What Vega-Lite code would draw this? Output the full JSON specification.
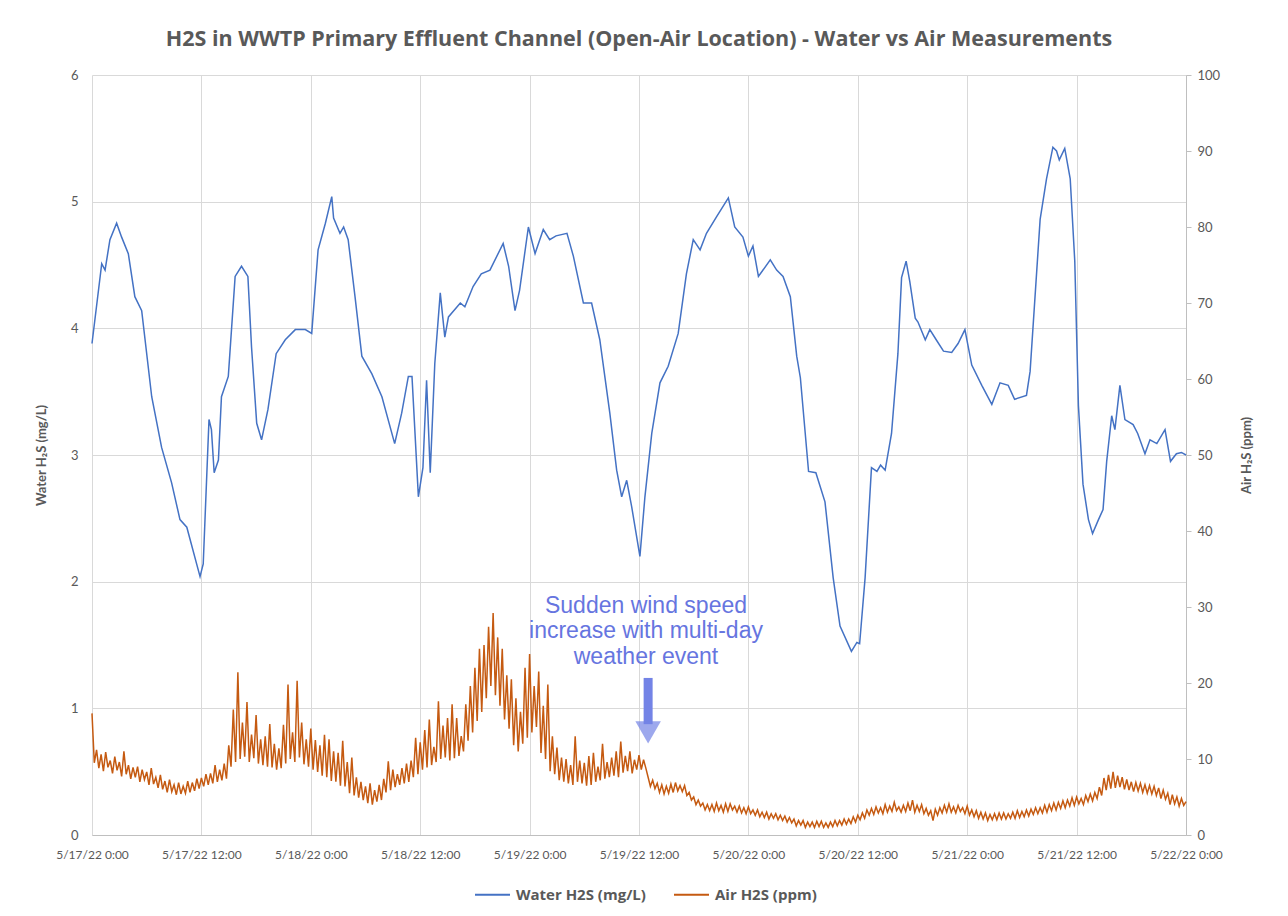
{
  "$schema": "https://vega.github.io/schema/vega-lite/v6.json",
  "width": 1094,
  "height": 760,
  "autosize": {"type": "none"},
  "padding": {"left": 92, "top": 75, "right": 102, "bottom": 81},
  "background": "white",
  "title": {
    "text": "H2S in WWTP Primary Effluent Channel (Open-Air Location) - Water vs Air Measurements",
    "font": "Open Sans", "fontSize": 21.5, "fontWeight": "bold", "color": "#595959",
    "anchor": "middle", "offset": 19
  },
  "config": {
    "view": {"stroke": null},
    "axis": {
      "labelFont": "Lato", "labelFontSize": 13, "labelColor": "#595959",
      "titleFont": "Lato", "titleFontSize": 13, "titleFontWeight": "bold", "titleColor": "#595959",
      "gridColor": "#d9d9d9", "domainColor": "#bfbfbf", "tickColor": "#bfbfbf"
    },
    "legend": {"labelFont": "Open Sans", "labelFontSize": 15, "labelFontWeight": "bold", "labelColor": "#595959"}
  },
  "datasets": {
    "water": [
      {"t": "2022-05-17T00:00", "w": 3.88}, {"t": "2022-05-17T01:04", "w": 4.51}, {"t": "2022-05-17T01:26", "w": 4.46},
      {"t": "2022-05-17T01:58", "w": 4.70}, {"t": "2022-05-17T02:42", "w": 4.83}, {"t": "2022-05-17T03:15", "w": 4.72},
      {"t": "2022-05-17T03:59", "w": 4.59}, {"t": "2022-05-17T04:42", "w": 4.25}, {"t": "2022-05-17T05:27", "w": 4.14},
      {"t": "2022-05-17T06:33", "w": 3.46}, {"t": "2022-05-17T07:38", "w": 3.06}, {"t": "2022-05-17T08:44", "w": 2.78},
      {"t": "2022-05-17T09:39", "w": 2.49}, {"t": "2022-05-17T10:24", "w": 2.43}, {"t": "2022-05-17T11:51", "w": 2.04},
      {"t": "2022-05-17T12:12", "w": 2.14}, {"t": "2022-05-17T12:50", "w": 3.28}, {"t": "2022-05-17T13:06", "w": 3.20},
      {"t": "2022-05-17T13:24", "w": 2.86}, {"t": "2022-05-17T13:52", "w": 2.96}, {"t": "2022-05-17T14:12", "w": 3.46},
      {"t": "2022-05-17T14:57", "w": 3.62}, {"t": "2022-05-17T15:42", "w": 4.41}, {"t": "2022-05-17T16:24", "w": 4.49},
      {"t": "2022-05-17T17:06", "w": 4.41}, {"t": "2022-05-17T17:30", "w": 3.85}, {"t": "2022-05-17T18:04", "w": 3.25},
      {"t": "2022-05-17T18:36", "w": 3.12}, {"t": "2022-05-17T19:18", "w": 3.36}, {"t": "2022-05-17T20:12", "w": 3.80},
      {"t": "2022-05-17T21:12", "w": 3.91}, {"t": "2022-05-17T22:18", "w": 3.99}, {"t": "2022-05-17T23:24", "w": 3.99},
      {"t": "2022-05-18T00:06", "w": 3.96}, {"t": "2022-05-18T00:48", "w": 4.62}, {"t": "2022-05-18T01:36", "w": 4.83},
      {"t": "2022-05-18T02:18", "w": 5.04}, {"t": "2022-05-18T02:30", "w": 4.87}, {"t": "2022-05-18T03:12", "w": 4.75},
      {"t": "2022-05-18T03:36", "w": 4.80}, {"t": "2022-05-18T04:06", "w": 4.70}, {"t": "2022-05-18T04:51", "w": 4.25},
      {"t": "2022-05-18T05:36", "w": 3.78}, {"t": "2022-05-18T06:42", "w": 3.64}, {"t": "2022-05-18T07:48", "w": 3.46},
      {"t": "2022-05-18T09:12", "w": 3.09}, {"t": "2022-05-18T09:58", "w": 3.33}, {"t": "2022-05-18T10:42", "w": 3.62},
      {"t": "2022-05-18T11:06", "w": 3.62}, {"t": "2022-05-18T11:48", "w": 2.67}, {"t": "2022-05-18T12:18", "w": 2.90},
      {"t": "2022-05-18T12:42", "w": 3.59}, {"t": "2022-05-18T13:06", "w": 2.86}, {"t": "2022-05-18T13:36", "w": 3.72},
      {"t": "2022-05-18T14:12", "w": 4.28}, {"t": "2022-05-18T14:42", "w": 3.93}, {"t": "2022-05-18T15:06", "w": 4.09},
      {"t": "2022-05-18T16:24", "w": 4.20}, {"t": "2022-05-18T16:54", "w": 4.17}, {"t": "2022-05-18T17:48", "w": 4.33},
      {"t": "2022-05-18T18:42", "w": 4.43}, {"t": "2022-05-18T19:39", "w": 4.46}, {"t": "2022-05-18T21:06", "w": 4.67},
      {"t": "2022-05-18T21:42", "w": 4.49}, {"t": "2022-05-18T22:24", "w": 4.14}, {"t": "2022-05-18T22:54", "w": 4.30},
      {"t": "2022-05-18T23:52", "w": 4.80}, {"t": "2022-05-19T00:36", "w": 4.59}, {"t": "2022-05-19T01:30", "w": 4.78},
      {"t": "2022-05-19T02:12", "w": 4.70}, {"t": "2022-05-19T02:54", "w": 4.73}, {"t": "2022-05-19T04:06", "w": 4.75},
      {"t": "2022-05-19T04:48", "w": 4.57}, {"t": "2022-05-19T05:54", "w": 4.20}, {"t": "2022-05-19T06:48", "w": 4.20},
      {"t": "2022-05-19T07:42", "w": 3.91}, {"t": "2022-05-19T08:48", "w": 3.33}, {"t": "2022-05-19T09:33", "w": 2.88},
      {"t": "2022-05-19T10:06", "w": 2.67}, {"t": "2022-05-19T10:39", "w": 2.80}, {"t": "2022-05-19T11:12", "w": 2.59},
      {"t": "2022-05-19T12:06", "w": 2.20}, {"t": "2022-05-19T12:39", "w": 2.67}, {"t": "2022-05-19T13:24", "w": 3.17},
      {"t": "2022-05-19T14:18", "w": 3.57}, {"t": "2022-05-19T15:12", "w": 3.70}, {"t": "2022-05-19T16:18", "w": 3.96},
      {"t": "2022-05-19T17:12", "w": 4.43}, {"t": "2022-05-19T17:57", "w": 4.70}, {"t": "2022-05-19T18:42", "w": 4.62},
      {"t": "2022-05-19T19:24", "w": 4.75}, {"t": "2022-05-19T20:30", "w": 4.88}, {"t": "2022-05-19T21:48", "w": 5.03},
      {"t": "2022-05-19T22:30", "w": 4.80}, {"t": "2022-05-19T23:24", "w": 4.72}, {"t": "2022-05-20T00:00", "w": 4.57},
      {"t": "2022-05-20T00:30", "w": 4.65}, {"t": "2022-05-20T01:06", "w": 4.41}, {"t": "2022-05-20T02:24", "w": 4.54},
      {"t": "2022-05-20T03:06", "w": 4.46}, {"t": "2022-05-20T03:48", "w": 4.41}, {"t": "2022-05-20T04:36", "w": 4.25},
      {"t": "2022-05-20T05:18", "w": 3.78}, {"t": "2022-05-20T05:42", "w": 3.61}, {"t": "2022-05-20T06:36", "w": 2.87},
      {"t": "2022-05-20T07:24", "w": 2.86}, {"t": "2022-05-20T08:24", "w": 2.63}, {"t": "2022-05-20T09:18", "w": 2.03},
      {"t": "2022-05-20T10:03", "w": 1.65}, {"t": "2022-05-20T11:18", "w": 1.45}, {"t": "2022-05-20T11:54", "w": 1.52},
      {"t": "2022-05-20T12:12", "w": 1.51}, {"t": "2022-05-20T12:48", "w": 2.03}, {"t": "2022-05-20T13:30", "w": 2.90},
      {"t": "2022-05-20T14:06", "w": 2.87}, {"t": "2022-05-20T14:30", "w": 2.92}, {"t": "2022-05-20T15:00", "w": 2.88},
      {"t": "2022-05-20T15:42", "w": 3.17}, {"t": "2022-05-20T16:24", "w": 3.80}, {"t": "2022-05-20T16:48", "w": 4.40},
      {"t": "2022-05-20T17:18", "w": 4.53}, {"t": "2022-05-20T17:42", "w": 4.37}, {"t": "2022-05-20T18:18", "w": 4.08},
      {"t": "2022-05-20T18:36", "w": 4.05}, {"t": "2022-05-20T19:24", "w": 3.91}, {"t": "2022-05-20T19:54", "w": 3.99},
      {"t": "2022-05-20T20:36", "w": 3.91}, {"t": "2022-05-20T21:24", "w": 3.82}, {"t": "2022-05-20T22:18", "w": 3.81},
      {"t": "2022-05-20T23:00", "w": 3.88}, {"t": "2022-05-20T23:45", "w": 3.99}, {"t": "2022-05-21T00:30", "w": 3.71},
      {"t": "2022-05-21T01:36", "w": 3.55}, {"t": "2022-05-21T02:42", "w": 3.40}, {"t": "2022-05-21T03:36", "w": 3.57},
      {"t": "2022-05-21T04:30", "w": 3.55}, {"t": "2022-05-21T05:12", "w": 3.44}, {"t": "2022-05-21T06:30", "w": 3.47},
      {"t": "2022-05-21T06:54", "w": 3.66}, {"t": "2022-05-21T08:00", "w": 4.86}, {"t": "2022-05-21T08:42", "w": 5.18},
      {"t": "2022-05-21T09:24", "w": 5.43}, {"t": "2022-05-21T09:48", "w": 5.40}, {"t": "2022-05-21T10:06", "w": 5.33},
      {"t": "2022-05-21T10:42", "w": 5.42}, {"t": "2022-05-21T11:18", "w": 5.18}, {"t": "2022-05-21T11:48", "w": 4.53},
      {"t": "2022-05-21T12:12", "w": 3.39}, {"t": "2022-05-21T12:42", "w": 2.77}, {"t": "2022-05-21T13:18", "w": 2.49},
      {"t": "2022-05-21T13:45", "w": 2.38}, {"t": "2022-05-21T14:24", "w": 2.49}, {"t": "2022-05-21T14:54", "w": 2.57},
      {"t": "2022-05-21T15:18", "w": 2.95}, {"t": "2022-05-21T15:51", "w": 3.31}, {"t": "2022-05-21T16:12", "w": 3.20},
      {"t": "2022-05-21T16:45", "w": 3.55}, {"t": "2022-05-21T17:18", "w": 3.28}, {"t": "2022-05-21T18:12", "w": 3.24},
      {"t": "2022-05-21T18:42", "w": 3.17}, {"t": "2022-05-21T19:30", "w": 3.01}, {"t": "2022-05-21T20:03", "w": 3.12},
      {"t": "2022-05-21T20:48", "w": 3.09}, {"t": "2022-05-21T21:42", "w": 3.20}, {"t": "2022-05-21T22:18", "w": 2.95},
      {"t": "2022-05-21T22:57", "w": 3.01}, {"t": "2022-05-21T23:30", "w": 3.02}, {"t": "2022-05-22T00:00", "w": 3.00}
    ],
    "air": [
      {"t": "2022-05-17T00:00", "a": 16.0}, {"t": "2022-05-17T00:15", "a": 9.5}, {"t": "2022-05-17T00:30", "a": 11.2}, {"t": "2022-05-17T00:45", "a": 8.8},
      {"t": "2022-05-17T01:00", "a": 10.6}, {"t": "2022-05-17T01:15", "a": 8.4}, {"t": "2022-05-17T01:30", "a": 10.9}, {"t": "2022-05-17T01:45", "a": 8.9},
      {"t": "2022-05-17T02:00", "a": 9.8}, {"t": "2022-05-17T02:15", "a": 8.1}, {"t": "2022-05-17T02:30", "a": 10.3}, {"t": "2022-05-17T02:45", "a": 8.5},
      {"t": "2022-05-17T03:00", "a": 9.6}, {"t": "2022-05-17T03:15", "a": 7.7}, {"t": "2022-05-17T03:30", "a": 11.0}, {"t": "2022-05-17T03:45", "a": 8.0},
      {"t": "2022-05-17T04:00", "a": 9.2}, {"t": "2022-05-17T04:15", "a": 7.4}, {"t": "2022-05-17T04:30", "a": 8.9}, {"t": "2022-05-17T04:45", "a": 7.6},
      {"t": "2022-05-17T05:00", "a": 9.0}, {"t": "2022-05-17T05:15", "a": 7.0}, {"t": "2022-05-17T05:30", "a": 8.6}, {"t": "2022-05-17T05:45", "a": 7.3},
      {"t": "2022-05-17T06:00", "a": 8.3}, {"t": "2022-05-17T06:15", "a": 6.6}, {"t": "2022-05-17T06:30", "a": 8.8}, {"t": "2022-05-17T06:45", "a": 6.7},
      {"t": "2022-05-17T07:00", "a": 7.6}, {"t": "2022-05-17T07:15", "a": 6.2}, {"t": "2022-05-17T07:30", "a": 7.9}, {"t": "2022-05-17T07:45", "a": 6.0},
      {"t": "2022-05-17T08:00", "a": 7.1}, {"t": "2022-05-17T08:15", "a": 5.6}, {"t": "2022-05-17T08:30", "a": 7.3}, {"t": "2022-05-17T08:45", "a": 5.7},
      {"t": "2022-05-17T09:00", "a": 6.6}, {"t": "2022-05-17T09:15", "a": 5.3}, {"t": "2022-05-17T09:30", "a": 6.9}, {"t": "2022-05-17T09:45", "a": 5.4},
      {"t": "2022-05-17T10:00", "a": 6.4}, {"t": "2022-05-17T10:15", "a": 5.5}, {"t": "2022-05-17T10:30", "a": 7.1}, {"t": "2022-05-17T10:45", "a": 5.6},
      {"t": "2022-05-17T11:00", "a": 6.9}, {"t": "2022-05-17T11:15", "a": 5.8}, {"t": "2022-05-17T11:30", "a": 7.4}, {"t": "2022-05-17T11:45", "a": 6.1},
      {"t": "2022-05-17T12:00", "a": 7.5}, {"t": "2022-05-17T12:15", "a": 6.4}, {"t": "2022-05-17T12:30", "a": 8.0}, {"t": "2022-05-17T12:45", "a": 6.6},
      {"t": "2022-05-17T13:00", "a": 8.1}, {"t": "2022-05-17T13:15", "a": 6.8}, {"t": "2022-05-17T13:30", "a": 9.2}, {"t": "2022-05-17T13:45", "a": 7.0},
      {"t": "2022-05-17T14:00", "a": 8.6}, {"t": "2022-05-17T14:15", "a": 7.2}, {"t": "2022-05-17T14:30", "a": 9.4}, {"t": "2022-05-17T14:45", "a": 7.4},
      {"t": "2022-05-17T15:00", "a": 11.8}, {"t": "2022-05-17T15:15", "a": 9.0}, {"t": "2022-05-17T15:30", "a": 16.5}, {"t": "2022-05-17T15:45", "a": 9.6},
      {"t": "2022-05-17T16:00", "a": 21.4}, {"t": "2022-05-17T16:15", "a": 10.0}, {"t": "2022-05-17T16:30", "a": 14.8}, {"t": "2022-05-17T16:45", "a": 10.3},
      {"t": "2022-05-17T17:00", "a": 17.5}, {"t": "2022-05-17T17:15", "a": 9.6}, {"t": "2022-05-17T17:30", "a": 13.2}, {"t": "2022-05-17T17:45", "a": 10.1},
      {"t": "2022-05-17T18:00", "a": 15.8}, {"t": "2022-05-17T18:15", "a": 9.4}, {"t": "2022-05-17T18:30", "a": 12.6}, {"t": "2022-05-17T18:45", "a": 9.2},
      {"t": "2022-05-17T19:00", "a": 13.0}, {"t": "2022-05-17T19:15", "a": 9.0}, {"t": "2022-05-17T19:30", "a": 14.6}, {"t": "2022-05-17T19:45", "a": 8.9},
      {"t": "2022-05-17T20:00", "a": 12.0}, {"t": "2022-05-17T20:15", "a": 8.6}, {"t": "2022-05-17T20:30", "a": 11.4}, {"t": "2022-05-17T20:45", "a": 8.8},
      {"t": "2022-05-17T21:00", "a": 14.5}, {"t": "2022-05-17T21:15", "a": 9.4}, {"t": "2022-05-17T21:30", "a": 19.8}, {"t": "2022-05-17T21:45", "a": 10.0},
      {"t": "2022-05-17T22:00", "a": 13.5}, {"t": "2022-05-17T22:15", "a": 9.6}, {"t": "2022-05-17T22:30", "a": 20.3}, {"t": "2022-05-17T22:45", "a": 10.2},
      {"t": "2022-05-17T23:00", "a": 14.8}, {"t": "2022-05-17T23:15", "a": 9.3}, {"t": "2022-05-17T23:30", "a": 12.6}, {"t": "2022-05-17T23:45", "a": 9.0},
      {"t": "2022-05-18T00:00", "a": 14.0}, {"t": "2022-05-18T00:15", "a": 8.6}, {"t": "2022-05-18T00:30", "a": 12.5}, {"t": "2022-05-18T00:45", "a": 8.3},
      {"t": "2022-05-18T01:00", "a": 11.8}, {"t": "2022-05-18T01:15", "a": 7.8}, {"t": "2022-05-18T01:30", "a": 13.2}, {"t": "2022-05-18T01:45", "a": 7.6},
      {"t": "2022-05-18T02:00", "a": 12.6}, {"t": "2022-05-18T02:15", "a": 7.1}, {"t": "2022-05-18T02:30", "a": 11.0}, {"t": "2022-05-18T02:45", "a": 7.0},
      {"t": "2022-05-18T03:00", "a": 10.8}, {"t": "2022-05-18T03:15", "a": 6.5}, {"t": "2022-05-18T03:30", "a": 12.4}, {"t": "2022-05-18T03:45", "a": 6.4},
      {"t": "2022-05-18T04:00", "a": 9.6}, {"t": "2022-05-18T04:15", "a": 5.5}, {"t": "2022-05-18T04:30", "a": 10.2}, {"t": "2022-05-18T04:45", "a": 5.2},
      {"t": "2022-05-18T05:00", "a": 7.6}, {"t": "2022-05-18T05:15", "a": 4.9}, {"t": "2022-05-18T05:30", "a": 7.0}, {"t": "2022-05-18T05:45", "a": 4.6},
      {"t": "2022-05-18T06:00", "a": 6.4}, {"t": "2022-05-18T06:15", "a": 4.2}, {"t": "2022-05-18T06:30", "a": 6.8}, {"t": "2022-05-18T06:45", "a": 4.0},
      {"t": "2022-05-18T07:00", "a": 5.9}, {"t": "2022-05-18T07:15", "a": 4.4}, {"t": "2022-05-18T07:30", "a": 6.6}, {"t": "2022-05-18T07:45", "a": 4.6},
      {"t": "2022-05-18T08:00", "a": 7.4}, {"t": "2022-05-18T08:15", "a": 5.6}, {"t": "2022-05-18T08:30", "a": 9.7}, {"t": "2022-05-18T08:45", "a": 5.9},
      {"t": "2022-05-18T09:00", "a": 8.6}, {"t": "2022-05-18T09:15", "a": 6.3}, {"t": "2022-05-18T09:30", "a": 8.0}, {"t": "2022-05-18T09:45", "a": 6.6},
      {"t": "2022-05-18T10:00", "a": 8.8}, {"t": "2022-05-18T10:15", "a": 6.8}, {"t": "2022-05-18T10:30", "a": 9.4}, {"t": "2022-05-18T10:45", "a": 7.0},
      {"t": "2022-05-18T11:00", "a": 9.8}, {"t": "2022-05-18T11:15", "a": 7.6}, {"t": "2022-05-18T11:30", "a": 12.8}, {"t": "2022-05-18T11:45", "a": 8.0},
      {"t": "2022-05-18T12:00", "a": 12.2}, {"t": "2022-05-18T12:15", "a": 8.6}, {"t": "2022-05-18T12:30", "a": 13.8}, {"t": "2022-05-18T12:45", "a": 8.9},
      {"t": "2022-05-18T13:00", "a": 15.2}, {"t": "2022-05-18T13:15", "a": 9.2}, {"t": "2022-05-18T13:30", "a": 11.6}, {"t": "2022-05-18T13:45", "a": 9.6},
      {"t": "2022-05-18T14:00", "a": 17.6}, {"t": "2022-05-18T14:15", "a": 10.0}, {"t": "2022-05-18T14:30", "a": 14.4}, {"t": "2022-05-18T14:45", "a": 10.2},
      {"t": "2022-05-18T15:00", "a": 15.4}, {"t": "2022-05-18T15:15", "a": 9.8}, {"t": "2022-05-18T15:30", "a": 17.2}, {"t": "2022-05-18T15:45", "a": 10.1},
      {"t": "2022-05-18T16:00", "a": 15.4}, {"t": "2022-05-18T16:15", "a": 10.4}, {"t": "2022-05-18T16:30", "a": 13.0}, {"t": "2022-05-18T16:45", "a": 11.0},
      {"t": "2022-05-18T17:00", "a": 17.2}, {"t": "2022-05-18T17:15", "a": 12.4}, {"t": "2022-05-18T17:30", "a": 19.6}, {"t": "2022-05-18T17:45", "a": 13.5},
      {"t": "2022-05-18T18:00", "a": 22.0}, {"t": "2022-05-18T18:15", "a": 15.0}, {"t": "2022-05-18T18:30", "a": 24.5}, {"t": "2022-05-18T18:45", "a": 16.2},
      {"t": "2022-05-18T19:00", "a": 25.0}, {"t": "2022-05-18T19:15", "a": 18.0}, {"t": "2022-05-18T19:30", "a": 27.4}, {"t": "2022-05-18T19:45", "a": 19.6},
      {"t": "2022-05-18T20:00", "a": 29.2}, {"t": "2022-05-18T20:15", "a": 18.4}, {"t": "2022-05-18T20:30", "a": 26.0}, {"t": "2022-05-18T20:45", "a": 17.0},
      {"t": "2022-05-18T21:00", "a": 24.5}, {"t": "2022-05-18T21:15", "a": 15.2}, {"t": "2022-05-18T21:30", "a": 21.0}, {"t": "2022-05-18T21:45", "a": 14.0},
      {"t": "2022-05-18T22:00", "a": 20.5}, {"t": "2022-05-18T22:15", "a": 11.8}, {"t": "2022-05-18T22:30", "a": 18.0}, {"t": "2022-05-18T22:45", "a": 11.0},
      {"t": "2022-05-18T23:00", "a": 16.2}, {"t": "2022-05-18T23:15", "a": 12.0}, {"t": "2022-05-18T23:30", "a": 22.0}, {"t": "2022-05-18T23:45", "a": 12.8},
      {"t": "2022-05-19T00:00", "a": 23.8}, {"t": "2022-05-19T00:15", "a": 13.5}, {"t": "2022-05-19T00:30", "a": 19.6}, {"t": "2022-05-19T00:45", "a": 14.2},
      {"t": "2022-05-19T01:00", "a": 21.5}, {"t": "2022-05-19T01:15", "a": 10.8}, {"t": "2022-05-19T01:30", "a": 17.0}, {"t": "2022-05-19T01:45", "a": 10.0},
      {"t": "2022-05-19T02:00", "a": 19.8}, {"t": "2022-05-19T02:15", "a": 8.4}, {"t": "2022-05-19T02:30", "a": 13.0}, {"t": "2022-05-19T02:45", "a": 8.0},
      {"t": "2022-05-19T03:00", "a": 11.5}, {"t": "2022-05-19T03:15", "a": 7.2}, {"t": "2022-05-19T03:30", "a": 10.2}, {"t": "2022-05-19T03:45", "a": 7.0},
      {"t": "2022-05-19T04:00", "a": 10.0}, {"t": "2022-05-19T04:15", "a": 6.8}, {"t": "2022-05-19T04:30", "a": 9.2}, {"t": "2022-05-19T04:45", "a": 6.6},
      {"t": "2022-05-19T05:00", "a": 13.0}, {"t": "2022-05-19T05:15", "a": 7.0}, {"t": "2022-05-19T05:30", "a": 9.8}, {"t": "2022-05-19T05:45", "a": 6.8},
      {"t": "2022-05-19T06:00", "a": 9.5}, {"t": "2022-05-19T06:15", "a": 6.5}, {"t": "2022-05-19T06:30", "a": 10.4}, {"t": "2022-05-19T06:45", "a": 6.6},
      {"t": "2022-05-19T07:00", "a": 10.8}, {"t": "2022-05-19T07:15", "a": 7.0}, {"t": "2022-05-19T07:30", "a": 9.0}, {"t": "2022-05-19T07:45", "a": 7.2},
      {"t": "2022-05-19T08:00", "a": 12.0}, {"t": "2022-05-19T08:15", "a": 7.4}, {"t": "2022-05-19T08:30", "a": 9.6}, {"t": "2022-05-19T08:45", "a": 7.6},
      {"t": "2022-05-19T09:00", "a": 10.2}, {"t": "2022-05-19T09:15", "a": 7.8}, {"t": "2022-05-19T09:30", "a": 11.0}, {"t": "2022-05-19T09:45", "a": 7.6},
      {"t": "2022-05-19T10:00", "a": 12.3}, {"t": "2022-05-19T10:15", "a": 8.2}, {"t": "2022-05-19T10:30", "a": 10.4}, {"t": "2022-05-19T10:45", "a": 8.4},
      {"t": "2022-05-19T11:00", "a": 11.0}, {"t": "2022-05-19T11:15", "a": 8.1}, {"t": "2022-05-19T11:30", "a": 9.9}, {"t": "2022-05-19T11:45", "a": 8.6},
      {"t": "2022-05-19T12:00", "a": 10.5}, {"t": "2022-05-19T12:15", "a": 8.6}, {"t": "2022-05-19T12:30", "a": 9.9}, {"t": "2022-05-19T12:45", "a": 8.8},
      {"t": "2022-05-19T13:00", "a": 7.6}, {"t": "2022-05-19T13:15", "a": 6.4}, {"t": "2022-05-19T13:30", "a": 7.2}, {"t": "2022-05-19T13:45", "a": 6.1},
      {"t": "2022-05-19T14:00", "a": 6.8}, {"t": "2022-05-19T14:15", "a": 5.6}, {"t": "2022-05-19T14:30", "a": 6.6}, {"t": "2022-05-19T14:45", "a": 5.4},
      {"t": "2022-05-19T15:00", "a": 6.4}, {"t": "2022-05-19T15:15", "a": 5.5}, {"t": "2022-05-19T15:30", "a": 6.7}, {"t": "2022-05-19T15:45", "a": 5.6},
      {"t": "2022-05-19T16:00", "a": 6.9}, {"t": "2022-05-19T16:15", "a": 5.8}, {"t": "2022-05-19T16:30", "a": 6.5}, {"t": "2022-05-19T16:45", "a": 5.7},
      {"t": "2022-05-19T17:00", "a": 6.5}, {"t": "2022-05-19T17:15", "a": 5.2}, {"t": "2022-05-19T17:30", "a": 5.6}, {"t": "2022-05-19T17:45", "a": 4.6},
      {"t": "2022-05-19T18:00", "a": 5.0}, {"t": "2022-05-19T18:15", "a": 4.0}, {"t": "2022-05-19T18:30", "a": 4.6}, {"t": "2022-05-19T18:45", "a": 3.8},
      {"t": "2022-05-19T19:00", "a": 4.2}, {"t": "2022-05-19T19:15", "a": 3.3}, {"t": "2022-05-19T19:30", "a": 4.0}, {"t": "2022-05-19T19:45", "a": 3.2},
      {"t": "2022-05-19T20:00", "a": 4.0}, {"t": "2022-05-19T20:15", "a": 3.1}, {"t": "2022-05-19T20:30", "a": 4.2}, {"t": "2022-05-19T20:45", "a": 3.2},
      {"t": "2022-05-19T21:00", "a": 3.9}, {"t": "2022-05-19T21:15", "a": 3.0}, {"t": "2022-05-19T21:30", "a": 4.1}, {"t": "2022-05-19T21:45", "a": 3.1},
      {"t": "2022-05-19T22:00", "a": 4.1}, {"t": "2022-05-19T22:15", "a": 3.3}, {"t": "2022-05-19T22:30", "a": 3.8}, {"t": "2022-05-19T22:45", "a": 3.0},
      {"t": "2022-05-19T23:00", "a": 3.8}, {"t": "2022-05-19T23:15", "a": 2.9}, {"t": "2022-05-19T23:30", "a": 3.6}, {"t": "2022-05-19T23:45", "a": 2.8},
      {"t": "2022-05-20T00:00", "a": 3.7}, {"t": "2022-05-20T00:15", "a": 2.8}, {"t": "2022-05-20T00:30", "a": 3.3}, {"t": "2022-05-20T00:45", "a": 2.6},
      {"t": "2022-05-20T01:00", "a": 3.3}, {"t": "2022-05-20T01:15", "a": 2.4}, {"t": "2022-05-20T01:30", "a": 3.0}, {"t": "2022-05-20T01:45", "a": 2.3},
      {"t": "2022-05-20T02:00", "a": 3.0}, {"t": "2022-05-20T02:15", "a": 2.1}, {"t": "2022-05-20T02:30", "a": 2.8}, {"t": "2022-05-20T02:45", "a": 2.2},
      {"t": "2022-05-20T03:00", "a": 2.8}, {"t": "2022-05-20T03:15", "a": 2.0}, {"t": "2022-05-20T03:30", "a": 2.6}, {"t": "2022-05-20T03:45", "a": 1.9},
      {"t": "2022-05-20T04:00", "a": 2.5}, {"t": "2022-05-20T04:15", "a": 1.7}, {"t": "2022-05-20T04:30", "a": 2.3}, {"t": "2022-05-20T04:45", "a": 1.6},
      {"t": "2022-05-20T05:00", "a": 2.1}, {"t": "2022-05-20T05:15", "a": 1.2}, {"t": "2022-05-20T05:30", "a": 1.9}, {"t": "2022-05-20T05:45", "a": 1.3},
      {"t": "2022-05-20T06:00", "a": 1.9}, {"t": "2022-05-20T06:15", "a": 1.0}, {"t": "2022-05-20T06:30", "a": 1.7}, {"t": "2022-05-20T06:45", "a": 1.1},
      {"t": "2022-05-20T07:00", "a": 1.7}, {"t": "2022-05-20T07:15", "a": 1.0}, {"t": "2022-05-20T07:30", "a": 1.8}, {"t": "2022-05-20T07:45", "a": 1.1},
      {"t": "2022-05-20T08:00", "a": 1.8}, {"t": "2022-05-20T08:15", "a": 1.0}, {"t": "2022-05-20T08:30", "a": 1.6}, {"t": "2022-05-20T08:45", "a": 1.0},
      {"t": "2022-05-20T09:00", "a": 1.7}, {"t": "2022-05-20T09:15", "a": 1.1}, {"t": "2022-05-20T09:30", "a": 1.9}, {"t": "2022-05-20T09:45", "a": 1.2},
      {"t": "2022-05-20T10:00", "a": 1.9}, {"t": "2022-05-20T10:15", "a": 1.3}, {"t": "2022-05-20T10:30", "a": 2.1}, {"t": "2022-05-20T10:45", "a": 1.4},
      {"t": "2022-05-20T11:00", "a": 2.1}, {"t": "2022-05-20T11:15", "a": 1.5}, {"t": "2022-05-20T11:30", "a": 2.4}, {"t": "2022-05-20T11:45", "a": 1.7},
      {"t": "2022-05-20T12:00", "a": 2.6}, {"t": "2022-05-20T12:15", "a": 2.0}, {"t": "2022-05-20T12:30", "a": 2.9}, {"t": "2022-05-20T12:45", "a": 2.2},
      {"t": "2022-05-20T13:00", "a": 3.3}, {"t": "2022-05-20T13:15", "a": 2.6}, {"t": "2022-05-20T13:30", "a": 3.5}, {"t": "2022-05-20T13:45", "a": 2.7},
      {"t": "2022-05-20T14:00", "a": 3.7}, {"t": "2022-05-20T14:15", "a": 2.9}, {"t": "2022-05-20T14:30", "a": 3.6}, {"t": "2022-05-20T14:45", "a": 2.8},
      {"t": "2022-05-20T15:00", "a": 4.0}, {"t": "2022-05-20T15:15", "a": 3.0}, {"t": "2022-05-20T15:30", "a": 3.8}, {"t": "2022-05-20T15:45", "a": 3.1},
      {"t": "2022-05-20T16:00", "a": 4.3}, {"t": "2022-05-20T16:15", "a": 3.2}, {"t": "2022-05-20T16:30", "a": 3.7}, {"t": "2022-05-20T16:45", "a": 3.0},
      {"t": "2022-05-20T17:00", "a": 3.9}, {"t": "2022-05-20T17:15", "a": 3.1}, {"t": "2022-05-20T17:30", "a": 4.2}, {"t": "2022-05-20T17:45", "a": 3.2},
      {"t": "2022-05-20T18:00", "a": 4.6}, {"t": "2022-05-20T18:15", "a": 3.0}, {"t": "2022-05-20T18:30", "a": 3.9}, {"t": "2022-05-20T18:45", "a": 3.1},
      {"t": "2022-05-20T19:00", "a": 4.0}, {"t": "2022-05-20T19:15", "a": 2.8}, {"t": "2022-05-20T19:30", "a": 3.5}, {"t": "2022-05-20T19:45", "a": 2.6},
      {"t": "2022-05-20T20:00", "a": 3.2}, {"t": "2022-05-20T20:15", "a": 1.9}, {"t": "2022-05-20T20:30", "a": 3.4}, {"t": "2022-05-20T20:45", "a": 2.6},
      {"t": "2022-05-20T21:00", "a": 3.6}, {"t": "2022-05-20T21:15", "a": 2.9}, {"t": "2022-05-20T21:30", "a": 3.9}, {"t": "2022-05-20T21:45", "a": 3.0},
      {"t": "2022-05-20T22:00", "a": 4.1}, {"t": "2022-05-20T22:15", "a": 3.0}, {"t": "2022-05-20T22:30", "a": 3.7}, {"t": "2022-05-20T22:45", "a": 2.9},
      {"t": "2022-05-20T23:00", "a": 3.9}, {"t": "2022-05-20T23:15", "a": 3.1}, {"t": "2022-05-20T23:30", "a": 3.6}, {"t": "2022-05-20T23:45", "a": 2.8},
      {"t": "2022-05-21T00:00", "a": 3.8}, {"t": "2022-05-21T00:15", "a": 2.6}, {"t": "2022-05-21T00:30", "a": 3.3}, {"t": "2022-05-21T00:45", "a": 2.4},
      {"t": "2022-05-21T01:00", "a": 3.2}, {"t": "2022-05-21T01:15", "a": 2.2}, {"t": "2022-05-21T01:30", "a": 3.0}, {"t": "2022-05-21T01:45", "a": 2.1},
      {"t": "2022-05-21T02:00", "a": 2.9}, {"t": "2022-05-21T02:15", "a": 1.9}, {"t": "2022-05-21T02:30", "a": 2.7}, {"t": "2022-05-21T02:45", "a": 2.0},
      {"t": "2022-05-21T03:00", "a": 2.8}, {"t": "2022-05-21T03:15", "a": 2.0}, {"t": "2022-05-21T03:30", "a": 2.9}, {"t": "2022-05-21T03:45", "a": 2.1},
      {"t": "2022-05-21T04:00", "a": 2.9}, {"t": "2022-05-21T04:15", "a": 2.1}, {"t": "2022-05-21T04:30", "a": 2.8}, {"t": "2022-05-21T04:45", "a": 2.2},
      {"t": "2022-05-21T05:00", "a": 3.0}, {"t": "2022-05-21T05:15", "a": 2.2}, {"t": "2022-05-21T05:30", "a": 3.2}, {"t": "2022-05-21T05:45", "a": 2.3},
      {"t": "2022-05-21T06:00", "a": 3.1}, {"t": "2022-05-21T06:15", "a": 2.4}, {"t": "2022-05-21T06:30", "a": 3.3}, {"t": "2022-05-21T06:45", "a": 2.5},
      {"t": "2022-05-21T07:00", "a": 3.4}, {"t": "2022-05-21T07:15", "a": 2.7}, {"t": "2022-05-21T07:30", "a": 3.6}, {"t": "2022-05-21T07:45", "a": 2.8},
      {"t": "2022-05-21T08:00", "a": 3.6}, {"t": "2022-05-21T08:15", "a": 2.9}, {"t": "2022-05-21T08:30", "a": 3.9}, {"t": "2022-05-21T08:45", "a": 3.0},
      {"t": "2022-05-21T09:00", "a": 4.0}, {"t": "2022-05-21T09:15", "a": 3.2}, {"t": "2022-05-21T09:30", "a": 4.2}, {"t": "2022-05-21T09:45", "a": 3.3},
      {"t": "2022-05-21T10:00", "a": 4.3}, {"t": "2022-05-21T10:15", "a": 3.5}, {"t": "2022-05-21T10:30", "a": 4.5}, {"t": "2022-05-21T10:45", "a": 3.6},
      {"t": "2022-05-21T11:00", "a": 4.6}, {"t": "2022-05-21T11:15", "a": 3.8}, {"t": "2022-05-21T11:30", "a": 4.9}, {"t": "2022-05-21T11:45", "a": 3.9},
      {"t": "2022-05-21T12:00", "a": 5.0}, {"t": "2022-05-21T12:15", "a": 4.1}, {"t": "2022-05-21T12:30", "a": 4.8}, {"t": "2022-05-21T12:45", "a": 4.0},
      {"t": "2022-05-21T13:00", "a": 5.2}, {"t": "2022-05-21T13:15", "a": 4.4}, {"t": "2022-05-21T13:30", "a": 5.4}, {"t": "2022-05-21T13:45", "a": 4.5},
      {"t": "2022-05-21T14:00", "a": 5.6}, {"t": "2022-05-21T14:15", "a": 4.8}, {"t": "2022-05-21T14:30", "a": 6.3}, {"t": "2022-05-21T14:45", "a": 5.2},
      {"t": "2022-05-21T15:00", "a": 7.5}, {"t": "2022-05-21T15:15", "a": 5.9}, {"t": "2022-05-21T15:30", "a": 7.9}, {"t": "2022-05-21T15:45", "a": 6.1},
      {"t": "2022-05-21T16:00", "a": 8.3}, {"t": "2022-05-21T16:15", "a": 6.2}, {"t": "2022-05-21T16:30", "a": 7.8}, {"t": "2022-05-21T16:45", "a": 6.3},
      {"t": "2022-05-21T17:00", "a": 7.6}, {"t": "2022-05-21T17:15", "a": 6.0}, {"t": "2022-05-21T17:30", "a": 7.3}, {"t": "2022-05-21T17:45", "a": 5.9},
      {"t": "2022-05-21T18:00", "a": 7.0}, {"t": "2022-05-21T18:15", "a": 5.7}, {"t": "2022-05-21T18:30", "a": 6.9}, {"t": "2022-05-21T18:45", "a": 5.8},
      {"t": "2022-05-21T19:00", "a": 6.8}, {"t": "2022-05-21T19:15", "a": 5.6}, {"t": "2022-05-21T19:30", "a": 6.6}, {"t": "2022-05-21T19:45", "a": 5.5},
      {"t": "2022-05-21T20:00", "a": 6.5}, {"t": "2022-05-21T20:15", "a": 5.4}, {"t": "2022-05-21T20:30", "a": 6.4}, {"t": "2022-05-21T20:45", "a": 5.2},
      {"t": "2022-05-21T21:00", "a": 6.2}, {"t": "2022-05-21T21:15", "a": 4.8}, {"t": "2022-05-21T21:30", "a": 5.9}, {"t": "2022-05-21T21:45", "a": 4.7},
      {"t": "2022-05-21T22:00", "a": 5.5}, {"t": "2022-05-21T22:15", "a": 4.0}, {"t": "2022-05-21T22:30", "a": 5.3}, {"t": "2022-05-21T22:45", "a": 4.1},
      {"t": "2022-05-21T23:00", "a": 5.0}, {"t": "2022-05-21T23:15", "a": 3.8}, {"t": "2022-05-21T23:30", "a": 4.8}, {"t": "2022-05-21T23:45", "a": 3.9},
      {"t": "2022-05-22T00:00", "a": 4.4}
    ],
    "note": [
      {"t": "2022-05-19T12:46", "y": 1.753, "label": "Sudden wind speed\nincrease with multi-day\nweather event"}
    ],
    "arrow": [
      {"t": "2022-05-19T13:00", "top": 1.24, "bottom": 0.875, "tip": 0.81}
    ]
  },
  "encoding": {
    "x": {
      "field": "t", "type": "temporal",
      "scale": {"domain": [{"year": 2022, "month": 5, "date": 17}, {"year": 2022, "month": 5, "date": 22}]},
      "axis": {
        "title": null, "format": "%-m/%-d/%y %-H:%M",
        "values": [
          {"year": 2022, "month": 5, "date": 17, "hours": 0}, {"year": 2022, "month": 5, "date": 17, "hours": 12},
          {"year": 2022, "month": 5, "date": 18, "hours": 0}, {"year": 2022, "month": 5, "date": 18, "hours": 12},
          {"year": 2022, "month": 5, "date": 19, "hours": 0}, {"year": 2022, "month": 5, "date": 19, "hours": 12},
          {"year": 2022, "month": 5, "date": 20, "hours": 0}, {"year": 2022, "month": 5, "date": 20, "hours": 12},
          {"year": 2022, "month": 5, "date": 21, "hours": 0}, {"year": 2022, "month": 5, "date": 21, "hours": 12},
          {"year": 2022, "month": 5, "date": 22, "hours": 0}
        ],
        "grid": true, "ticks": false, "domain": true,
        "labelFlush": false, "labelOverlap": false, "labelPadding": 14, "labelFontSize": 12
      }
    }
  },
  "layer": [
    {
      "data": {"name": "water"},
      "mark": {"type": "line", "strokeWidth": 1.5},
      "encoding": {
        "y": {
          "field": "w", "type": "quantitative",
          "scale": {"domain": [0, 6], "nice": false},
          "axis": {
            "title": "Water H₂S (mg/L)", "values": [0, 1, 2, 3, 4, 5, 6],
            "grid": true, "domain": false, "ticks": false, "labelPadding": 14, "titlePadding": 22
          }
        },
        "color": {
          "datum": "Water H2S (mg/L)",
          "scale": {"domain": ["Water H2S (mg/L)", "Air H2S (ppm)"], "range": ["#4472c4", "#c55a11"]},
          "legend": {
            "title": null, "orient": "none", "legendX": 382, "legendY": 801, "direction": "horizontal",
            "symbolType": "stroke", "symbolSize": 1225, "symbolStrokeWidth": 2,
            "labelOffset": 5, "columnPadding": 24
          }
        }
      }
    },
    {
      "data": {"name": "air"},
      "mark": {"type": "line", "strokeWidth": 1.5},
      "encoding": {
        "y": {
          "field": "a", "type": "quantitative",
          "scale": {"domain": [0, 100], "nice": false},
          "axis": {
            "orient": "right", "title": "Air H₂S (ppm)", "titleAngle": -90,
            "values": [0, 10, 20, 30, 40, 50, 60, 70, 80, 90, 100],
            "grid": false, "domain": true, "ticks": true, "tickSize": 5,
            "labelPadding": 6, "titlePadding": 34
          }
        },
        "color": {"datum": "Air H2S (ppm)"}
      }
    },
    {
      "data": {"name": "arrow"},
      "mark": {"type": "rule", "strokeWidth": 9, "color": "#7383e6"},
      "encoding": {
        "y": {"field": "top", "type": "quantitative", "scale": {"domain": [0, 6], "nice": false}, "axis": null},
        "y2": {"field": "bottom"}
      }
    },
    {
      "data": {"name": "arrow"},
      "mark": {"type": "point", "shape": "triangle-down", "filled": true, "size": 650, "color": "#7383e6"},
      "encoding": {
        "y": {"field": "tip", "type": "quantitative", "scale": {"domain": [0, 6], "nice": false}, "axis": null}
      }
    },
    {
      "data": {"name": "note"},
      "mark": {
        "type": "text", "font": "Liberation Sans", "fontSize": 23, "color": "#6675e0",
        "align": "center", "baseline": "alphabetic", "lineBreak": "\n", "lineHeight": 25.5
      },
      "encoding": {
        "y": {"field": "y", "type": "quantitative", "scale": {"domain": [0, 6], "nice": false}, "axis": null},
        "text": {"field": "label", "type": "nominal"}
      }
    }
  ],
  "resolve": {"scale": {"y": "independent"}}
}
